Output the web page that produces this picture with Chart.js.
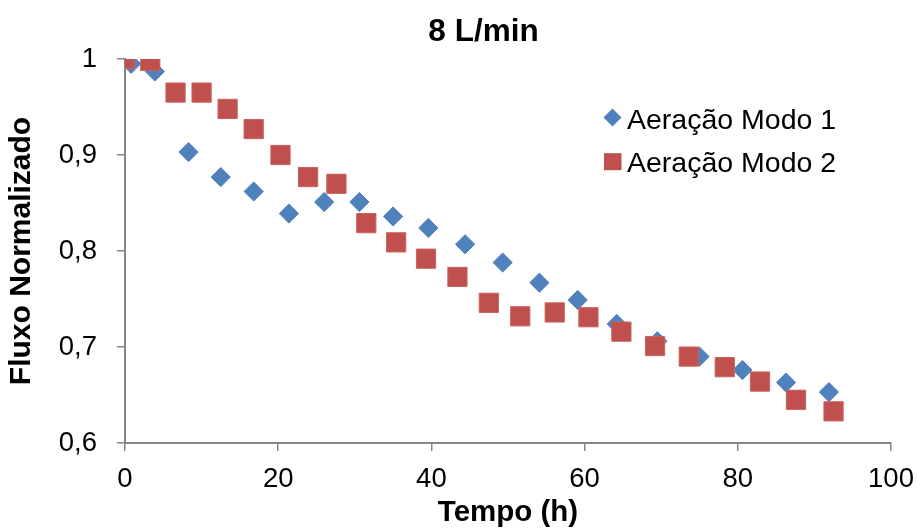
<!DOCTYPE html>
<html>
<head>
<meta charset="utf-8">
<script src="https://cdn.jsdelivr.net/npm/chart.js@4/dist/chart.umd.min.js"></script>
<style>
  html, body { margin: 0; padding: 0; background: #fff; }
  #wrap { width: 918px; height: 531px; }
</style>
</head>
<body>
<div id="wrap"><canvas id="c" width="918" height="531"></canvas></div>
<script>
const chartTitle = '8 L/min';
const xTitle = 'Tempo (h)';
const yTitle = 'Fluxo Normalizado';
const seriesNames = ['Aeração Modo 1', 'Aeração Modo 2'];

const modo1X = [0.8, 3.9, 8.3, 12.5, 16.8, 21.4, 26.0, 30.6, 35.0, 39.6, 44.4, 49.3, 54.1, 59.1, 64.2, 69.5, 75.0, 80.6, 86.3, 91.9];
const modo1Y = [0.995, 0.987, 0.903, 0.877, 0.862, 0.839, 0.851, 0.851, 0.836, 0.824, 0.807, 0.788, 0.767, 0.749, 0.724, 0.706, 0.690, 0.676, 0.663, 0.653];

const modo2X = [0.0, 3.3, 6.6, 10.0, 13.4, 16.8, 20.3, 23.9, 27.6, 31.5, 35.4, 39.3, 43.4, 47.5, 51.6, 56.1, 60.5, 64.8, 69.2, 73.6, 78.3, 82.9, 87.6, 92.5];
const modo2Y = [1.000, 0.998, 0.965, 0.965, 0.948, 0.927, 0.900, 0.877, 0.870, 0.829, 0.809, 0.792, 0.773, 0.746, 0.732, 0.736, 0.731, 0.716, 0.701, 0.690, 0.679, 0.664, 0.645, 0.633];

const xTicks = [0, 20, 40, 60, 80, 100];
const yTicks = [0.6, 0.7, 0.8, 0.9, 1.0];

const toPoints = (xs, ys) => xs.map((x, i) => ({ x: x, y: ys[i] }));

const FONT = '"Liberation Sans", Arial, sans-serif';
const AXIS_COLOR = '#868686';

const overlay = {
  id: 'overlay',
  afterDraw(chart) {
    const ctx = chart.ctx;
    ctx.save();
    ctx.fillStyle = '#000';
    ctx.font = 'bold 31.5px ' + FONT;
    ctx.textAlign = 'center';
    ctx.textBaseline = 'alphabetic';
    ctx.fillText(chartTitle, 483.5, 40.5);

    // legend
    const ds = chart.data.datasets;
    ctx.font = '28.5px ' + FONT;
    ctx.textAlign = 'left';
    const rows = [{ cy: 117.5, base: 128.5 }, { cy: 161.7, base: 171.5 }];
    const legendOrder = [1, 0];
    legendOrder.forEach((di, k) => {
      const d = ds[di];
      const r = rows[k];
      ctx.fillStyle = d.backgroundColor;
      if (d.pointStyle === 'rectRot') {
        const s = 9;
        ctx.beginPath();
        ctx.moveTo(612.5 - s, r.cy);
        ctx.lineTo(612.5, r.cy - s);
        ctx.lineTo(612.5 + s, r.cy);
        ctx.lineTo(612.5, r.cy + s);
        ctx.closePath();
        ctx.fill();
      } else {
        ctx.fillRect(604, r.cy - 8.5, 17.5, 17);
      }
      ctx.fillStyle = '#000';
      ctx.fillText(d.label, 627, r.base);
    });
    ctx.restore();
  }
};

new Chart(document.getElementById('c'), {
  type: 'scatter',
  data: {
    datasets: [
      {
        label: seriesNames[1],
        data: toPoints(modo2X, modo2Y),
        pointStyle: 'rect',
        pointRadius: 13.6,
        pointHoverRadius: 13.6,
        backgroundColor: '#C0504D',
        borderColor: '#C9625F',
        borderWidth: 1,
        order: 0
      },
      {
        label: seriesNames[0],
        data: toPoints(modo1X, modo1Y),
        pointStyle: 'rectRot',
        pointRadius: 9.6,
        pointHoverRadius: 9.6,
        backgroundColor: '#4F81BD',
        borderColor: '#4F81BD',
        borderWidth: 1,
        order: 1
      }
    ]
  },
  options: {
    responsive: false,
    animation: false,
    devicePixelRatio: 1,
    layout: { padding: { left: 0, right: 27, top: 59, bottom: 0 } },
    plugins: {
      legend: { display: false },
      title: { display: false },
      tooltip: { enabled: false }
    },
    scales: {
      x: {
        type: 'linear',
        min: 0,
        max: 100,
        afterFit: s => { s.height = 88; s.paddingLeft = 0; s.paddingRight = 0; },
        afterBuildTicks: s => { s.ticks = xTicks.map(v => ({ value: v })); },
        grid: { display: true, drawOnChartArea: false, drawTicks: true, tickLength: 8, color: AXIS_COLOR, lineWidth: 1.5 },
        border: { display: true, color: AXIS_COLOR, width: 2 },
        ticks: { color: '#000', font: { family: FONT, size: 27.5 }, padding: 12, maxRotation: 0, callback: v => String(v) },
        title: { display: true, text: xTitle, color: '#000', font: { family: FONT, size: 29.5, weight: 'bold' }, padding: { top: 0, bottom: 0 } }
      },
      y: {
        type: 'linear',
        min: 0.6,
        max: 1.0,
        afterFit: s => { s.width = 125; s.paddingTop = 0; s.paddingBottom = 0; },
        afterBuildTicks: s => { s.ticks = yTicks.map(v => ({ value: v })); },
        grid: { display: true, drawOnChartArea: false, drawTicks: true, tickLength: 8, color: AXIS_COLOR, lineWidth: 1.5 },
        border: { display: true, color: AXIS_COLOR, width: 2 },
        ticks: { color: '#000', font: { family: FONT, size: 27.5 }, padding: 20,
                 callback: v => (Math.round(v * 10) / 10).toString().replace('.', ',') },
        title: { display: true, text: yTitle, color: '#000', font: { family: FONT, size: 30, weight: 'bold' }, padding: { top: 4, bottom: 0 } }
      }
    }
  },
  plugins: [overlay]
});
</script>
</body>
</html>
